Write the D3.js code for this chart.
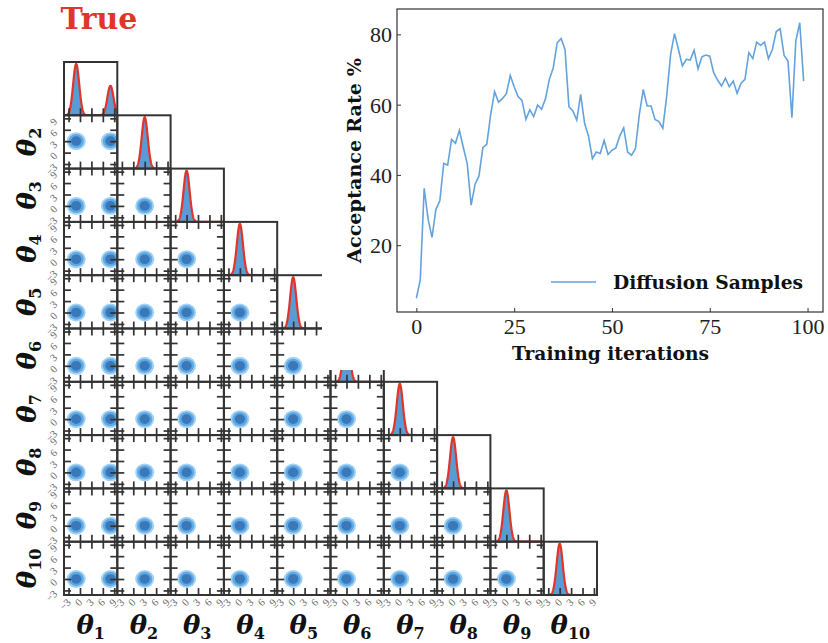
<!DOCTYPE html>
<html>
<head>
<meta charset="utf-8">
<script src="https://cdn.jsdelivr.net/npm/d3@7"></script>
<style>
  body { margin: 0; background: #fff; }
  svg { display: block; }
</style>
</head>
<body>
<div id="chart"></div>
<script>
// corner plot parameters
var paramLabels = ["1", "2", "3", "4", "5", "6", "7", "8", "9", "10"];
// modes of the true posterior for each theta (theta1 is bimodal)
var trueModes = [[-1, 8], [3], [0], [0], [0], [0], [0], [0], [0], [0]];
var modeWeights = [[0.635, 0.365], [1], [1], [1], [1], [1], [1], [1], [1], [1]];
var trueSigma = 0.8;
var tickVals = [-3, 0, 3, 6, 9];
var thetaDomain = [-4.2, 9.8];
// contour radii (data units) for the 2d panels, outer -> inner
var contourRadii = [2.5, 2.0, 1.35];
var contourColors = ["#a3d1f3", "#5fa9e2", "#3a78ba"];

// inset: acceptance rate per training iteration
var iterations = d3.range(100);
var acceptRate = [4.9, 10.1, 36.2, 27.4, 22.2, 30.2, 32.6, 43.3, 42.8, 50.1,
  49.0, 52.7, 47.8, 43.2, 31.4, 37.3, 39.7, 47.8, 48.7, 57.2,
  63.7, 60.7, 61.7, 63.1, 68.3, 65.1, 62.3, 61.2, 55.8, 58.5,
  56.6, 59.9, 58.7, 61.7, 67.2, 70.5, 77.6, 78.8, 75.7, 59.4,
  58.2, 55.6, 62.9, 54.7, 51.1, 44.6, 46.5, 46.1, 49.8, 45.8,
  47.0, 47.7, 51.1, 53.4, 46.5, 45.6, 47.5, 57.2, 64.3, 59.6,
  59.6, 55.8, 55.2, 53.3, 62.5, 74.3, 80.2, 75.7, 71.0, 72.9,
  72.7, 75.5, 70.2, 73.6, 74.1, 73.8, 69.1, 67.0, 65.3, 67.5,
  65.1, 66.7, 63.2, 66.1, 67.2, 74.8, 73.1, 77.8, 76.9, 77.8,
  73.1, 75.7, 80.8, 81.6, 74.0, 72.4, 56.3, 78.1, 83.3, 66.7];
var insetXTicks = [0, 25, 50, 75, 100];
var insetYTicks = [20, 40, 60, 80];

var svgWidth = 828;
var svgHeight = 643;
var cell = 53.3;
var gridLeft = 64;
var gridTop = 62;
var n = paramLabels.length;

var svg = d3.select("#chart")
  .append("svg")
  .attr("width", svgWidth)
  .attr("height", svgHeight);

svg.append("defs").append("clipPath")
  .attr("id", "cellclip")
  .append("rect")
  .attr("width", cell)
  .attr("height", cell);

var x = d3.scaleLinear().domain(thetaDomain).range([0, cell]);
var y = d3.scaleLinear().domain(thetaDomain).range([cell, 0]);

function fmt(v) { return v < 0 ? "\u2212" + Math.abs(v) : String(v); }

function density(k, t) {
  var s = 0;
  trueModes[k].forEach(function(m, q) {
    s += modeWeights[k][q] * Math.exp(-0.5 * Math.pow((t - m) / trueSigma, 2));
  });
  return s;
}

function addTicks(g, sides) {
  var tl = 7;
  if (sides.indexOf("b") >= 0) {
    g.append("g").attr("transform", `translate(0,${cell})`)
      .call(d3.axisBottom(x).tickValues(tickVals).tickSize(-tl).tickFormat(""));
  }
  if (sides.indexOf("t") >= 0) {
    g.append("g").call(d3.axisTop(x).tickValues(tickVals).tickSize(-tl).tickFormat(""));
  }
  if (sides.indexOf("l") >= 0) {
    g.append("g").call(d3.axisLeft(y).tickValues(tickVals).tickSize(-tl).tickFormat(""));
  }
  if (sides.indexOf("r") >= 0) {
    g.append("g").attr("transform", `translate(${cell},0)`)
      .call(d3.axisRight(y).tickValues(tickVals).tickSize(-tl).tickFormat(""));
  }
  g.selectAll(".domain").remove();
  g.selectAll(".tick line").attr("stroke", "#333").attr("stroke-width", 1.7);
}

var grid = svg.append("g");

for (var i = 0; i < n; i++) {
  for (var j = 0; j <= i; j++) {
    var g = grid.append("g")
      .attr("transform", `translate(${gridLeft + j * cell},${gridTop + i * cell})`);
    var inner = g.append("g").attr("clip-path", "url(#cellclip)");

    if (i === j) {
      // 1d marginal: sampled posterior (blue) and true density (red)
      var pts = d3.range(thetaDomain[0], thetaDomain[1] + 0.001, 0.05);
      var dmax = d3.max(pts, t => density(i, t));
      var yd = d3.scaleLinear().domain([0, dmax * 1.04]).range([cell, 0]);
      inner.append("path")
        .datum(pts)
        .attr("fill", "#5b9bd5")
        .attr("d", d3.area().x(t => x(t)).y0(cell).y1(t => yd(density(i, t) * 0.97)));
      inner.append("path")
        .datum(pts)
        .attr("fill", "none")
        .attr("stroke", "#e0352b")
        .attr("stroke-width", 2.2)
        .attr("d", d3.line().x(t => x(t)).y(t => yd(density(i, t))));
      addTicks(g, "b");
    } else {
      // 2d marginal: filled contour levels around each mode
      trueModes[j].forEach(function(mx) {
        trueModes[i].forEach(function(my) {
          contourRadii.forEach(function(r, q) {
            inner.append("ellipse")
              .attr("cx", x(mx))
              .attr("cy", y(my))
              .attr("rx", x(r) - x(0))
              .attr("ry", (x(r) - x(0)) * 0.94)
              .attr("fill", contourColors[q]);
          });
        });
      });
      addTicks(g, "bltr");
    }

    g.append("rect")
      .attr("width", cell)
      .attr("height", cell)
      .attr("fill", "none")
      .attr("stroke", "#333")
      .attr("stroke-width", 2);

    // tick labels on bottom row and left column
    if (i === n - 1) {
      tickVals.forEach(function(t) {
        g.append("text")
          .attr("transform", `translate(${x(t) + 3},${cell + 8}) rotate(-45)`)
          .attr("text-anchor", "end")
          .attr("font-family", "Liberation Serif, serif")
          .attr("font-size", 10.5)
          .attr("fill", "#666")
          .text(fmt(t));
      });
    }
    if (j === 0 && i > 0) {
      tickVals.forEach(function(t) {
        g.append("text")
          .attr("transform", `translate(-6,${y(t) + 4}) rotate(-45)`)
          .attr("text-anchor", "end")
          .attr("font-family", "Liberation Serif, serif")
          .attr("font-size", 10.5)
          .attr("fill", "#666")
          .text(fmt(t));
      });
    }
  }
}

// theta axis labels
function thetaLabel(sel, k) {
  sel.attr("font-family", "DejaVu Serif, serif")
    .attr("font-weight", "bold")
    .attr("fill", "#111");
  sel.append("tspan").attr("font-style", "italic").attr("font-size", 26).text("\u03b8");
  sel.append("tspan").attr("font-size", 16).attr("dy", 5).text(paramLabels[k]);
}

for (var k = 0; k < n; k++) {
  svg.append("text")
    .attr("x", gridLeft + (k + 0.5) * cell)
    .attr("y", 634)
    .attr("text-anchor", "middle")
    .call(thetaLabel, k);
  if (k > 0) {
    svg.append("text")
      .attr("transform", `translate(36,${gridTop + (k + 0.5) * cell}) rotate(-90)`)
      .attr("text-anchor", "middle")
      .call(thetaLabel, k);
  }
}

svg.append("text")
  .attr("x", 99)
  .attr("y", 29)
  .attr("text-anchor", "middle")
  .attr("font-family", "DejaVu Serif, serif")
  .attr("font-weight", "bold")
  .attr("font-size", 30)
  .attr("fill", "#e0352b")
  .text("True");

// ---------------- inset: acceptance rate ----------------
var inset = { left: 397, top: 9, right: 823, bottom: 312 };

svg.append("rect")
  .attr("x", 322)
  .attr("y", 0)
  .attr("width", svgWidth - 322)
  .attr("height", 370)
  .attr("fill", "#fff");

var xPad = (d3.max(iterations) - d3.min(iterations)) * 0.05;
var yExt = d3.extent(acceptRate);
var yPad = (yExt[1] - yExt[0]) * 0.05;

var xIns = d3.scaleLinear()
  .domain([d3.min(iterations) - xPad, d3.max(iterations) + xPad])
  .range([inset.left, inset.right]);
var yIns = d3.scaleLinear()
  .domain([yExt[0] - yPad, yExt[1] + yPad])
  .range([inset.bottom, inset.top]);

var xAxisIns = svg.append("g")
  .attr("transform", `translate(0,${inset.bottom})`)
  .call(d3.axisBottom(xIns).tickValues(insetXTicks).tickSize(-4).tickPadding(7));
var yAxisIns = svg.append("g")
  .attr("transform", `translate(${inset.left},0)`)
  .call(d3.axisLeft(yIns).tickValues(insetYTicks).tickSize(-4).tickPadding(5));

[xAxisIns, yAxisIns].forEach(function(ax) {
  ax.select(".domain").remove();
  ax.selectAll(".tick line").attr("stroke", "#333").attr("stroke-width", 1);
  ax.selectAll(".tick text")
    .attr("font-family", "Liberation Serif, serif")
    .attr("font-size", 22)
    .attr("fill", "#222");
});
xAxisIns.selectAll(".tick text").attr("dy", "0.68em");
yAxisIns.selectAll(".tick text").attr("dy", "0.34em");

svg.append("rect")
  .attr("x", inset.left)
  .attr("y", inset.top)
  .attr("width", inset.right - inset.left)
  .attr("height", inset.bottom - inset.top)
  .attr("fill", "none")
  .attr("stroke", "#333")
  .attr("stroke-width", 1.2);

svg.append("path")
  .datum(acceptRate)
  .attr("fill", "none")
  .attr("stroke", "#62a3df")
  .attr("stroke-width", 1.6)
  .attr("d", d3.line().x((d, idx) => xIns(iterations[idx])).y(d => yIns(d)));

// legend
svg.append("line")
  .attr("x1", 551).attr("x2", 596)
  .attr("y1", 282).attr("y2", 282)
  .attr("stroke", "#62a3df")
  .attr("stroke-width", 1.6);

function boldLabel(sel, len) {
  sel.attr("font-family", "DejaVu Serif, serif")
    .attr("font-weight", "bold")
    .attr("font-size", 19)
    .attr("fill", "#111")
    .attr("textLength", len)
    .attr("lengthAdjust", "spacingAndGlyphs");
}

svg.append("text")
  .attr("x", 613)
  .attr("y", 289)
  .call(boldLabel, 190)
  .text("Diffusion Samples");

svg.append("text")
  .attr("x", 512)
  .attr("y", 360)
  .call(boldLabel, 197)
  .text("Training iterations");

svg.append("text")
  .attr("transform", `translate(361,263) rotate(-90)`)
  .call(boldLabel, 205)
  .text("Acceptance Rate %");
</script>
</body>
</html>
